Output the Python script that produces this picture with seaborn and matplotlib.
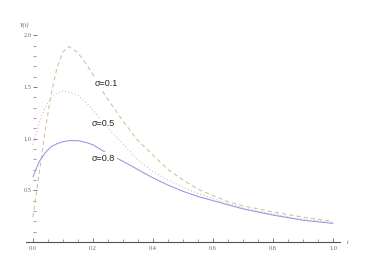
import numpy as np
import pandas as pd
import seaborn as sns
import matplotlib
matplotlib.use("Agg")
import matplotlib.pyplot as plt
from matplotlib.ticker import MultipleLocator, FixedLocator

t = [0, 0.02, 0.04, 0.06, 0.08, 0.1, 0.12, 0.15, 0.18, 0.2, 0.24, 0.3, 0.35,
     0.4, 0.45, 0.5, 0.55, 0.6, 0.65, 0.7, 0.8, 0.9, 1.0]
y_s01 = [0.24, 0.64, 1.06, 1.42, 1.68, 1.84, 1.89, 1.83, 1.71, 1.62, 1.42, 1.17, 0.98,
         0.84, 0.70, 0.60, 0.51, 0.45, 0.39, 0.35, 0.29, 0.24, 0.20]
y_s05 = [0.94, 1.14, 1.30, 1.39, 1.44, 1.46, 1.45, 1.42, 1.34, 1.28, 1.13, 0.95, 0.79,
         0.68, 0.60, 0.53, 0.47, 0.42, 0.37, 0.33, 0.27, 0.22, 0.19]
y_s08 = [0.63, 0.77, 0.86, 0.92, 0.95, 0.97, 0.98, 0.98, 0.96, 0.94, 0.87, 0.78, 0.70,
         0.62, 0.55, 0.49, 0.44, 0.40, 0.36, 0.32, 0.26, 0.21, 0.18]
labels = ["σ=0.1", "σ=0.5", "σ=0.8"]
x_ticks = [0.0, 0.2, 0.4, 0.6, 0.8, 1.0]
y_ticks = [0.5, 1.0, 1.5, 2.0]

df = pd.concat([
    pd.DataFrame({"t": t, "Y": y_s01, "sigma": labels[0]}),
    pd.DataFrame({"t": t, "Y": y_s05, "sigma": labels[1]}),
    pd.DataFrame({"t": t, "Y": y_s08, "sigma": labels[2]}),
])

sns.set_style("white")
plt.rcParams["font.family"] = ["Liberation Sans", "DejaVu Sans"]

fig = plt.figure(figsize=(3.74, 2.75), dpi=100)
ax = fig.add_axes([26 / 374, 33 / 275, 314 / 374, 212 / 275])

palette = {labels[0]: "#cfc196", labels[1]: "#e2a9c8", labels[2]: "#9696e0"}
dashes = {labels[0]: (4, 3), labels[1]: (1, 2.2), labels[2]: ""}
sns.lineplot(data=df, x="t", y="Y", hue="sigma", style="sigma", palette=palette,
             dashes=dashes, linewidth=0.75, legend=False, ax=ax, zorder=2)

ax.set_xlim(-0.023, 1.023)
ax.set_ylim(0, 2.05)

for s in ["top", "right"]:
    ax.spines[s].set_visible(False)
ax.spines["left"].set_position(("data", 0))
ax.spines["left"].set_visible(False)
ax.spines["bottom"].set_color("#555555")
ax.spines["bottom"].set_linewidth(0.8)

ax.xaxis.set_major_locator(FixedLocator(x_ticks))
ax.xaxis.set_minor_locator(MultipleLocator(0.05))
ax.yaxis.set_major_locator(FixedLocator(y_ticks))
ax.yaxis.set_minor_locator(MultipleLocator(0.1))
ax.set_xticklabels([f"{v:.1f}" for v in x_ticks])
ax.set_yticklabels([f"{v:.1f}" for v in y_ticks])

ax.tick_params(axis="both", which="both", bottom=True, left=True)
ax.tick_params(axis="both", which="major", direction="in", length=3.2, width=0.6,
               colors="#666666", labelsize=4.5, labelcolor="#666666")
ax.tick_params(axis="both", which="minor", direction="in", length=2.2, width=0.5,
               colors="#777777")
ax.tick_params(axis="x", which="both", pad=3)
ax.tick_params(axis="y", which="both", pad=1)
for lab in ax.get_xticklabels() + ax.get_yticklabels():
    lab.set_fontfamily("Liberation Serif")

ax.set_xlabel("")
ax.set_ylabel("")
ax.text(1.045, 0.0, "t", fontsize=4.5, family="Liberation Serif", style="italic",
        color="#666666", ha="left", va="center", clip_on=False)
ax.text(-0.012, 2.10, "Y(t)", fontsize=4.5, family="Liberation Serif", style="italic",
        color="#666666", ha="right", va="center", clip_on=False)

label_pos = [(0.207, 1.53), (0.197, 1.145), (0.197, 0.81)]
for lab, (lx, ly) in zip(labels, label_pos):
    ax.text(lx, ly, lab, fontsize=6.5, color="#222222", ha="left", va="center",
            zorder=5, bbox=dict(facecolor="white", edgecolor="none", pad=1.0))

fig.savefig("out.png", dpi=100)
